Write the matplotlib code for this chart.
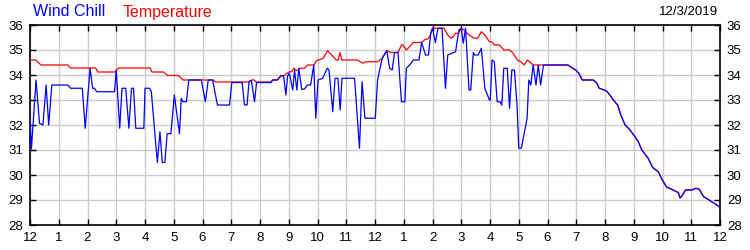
import matplotlib
matplotlib.use("Agg")
import matplotlib.pyplot as plt
import numpy as np

plt.rcParams['font.family'] = ['Liberation Sans', 'DejaVu Sans']

# hours since midnight (0..24) and values
chill_hours = [0.0, 0.05, 0.21, 0.33, 0.45, 0.56, 0.65, 0.76, 1.32, 1.41, 1.82, 1.92, 2.09, 2.18, 2.24, 2.32,
               2.94, 3.0, 3.12, 3.2, 3.33, 3.44, 3.53, 3.6, 3.68, 3.96, 4.0, 4.16, 4.22, 4.43, 4.52, 4.6,
               4.69, 4.77, 4.9, 5.02, 5.2, 5.26, 5.32, 5.44, 5.52, 5.96, 6.1, 6.2, 6.35, 6.52, 6.94, 7.02,
               7.38, 7.46, 7.55, 7.62, 7.7, 7.81, 7.88, 8.38, 8.44, 8.6, 8.73, 8.82, 8.9, 8.96, 9.02, 9.14,
               9.2, 9.28, 9.35, 9.45, 9.53, 9.61, 9.65, 9.76, 9.87, 9.94, 10.02, 10.18, 10.34, 10.4, 10.53,
               10.61, 10.71, 10.79, 10.85, 11.29, 11.46, 11.55, 11.65, 12.01, 12.09, 12.25, 12.41, 12.51,
               12.6, 12.68, 12.8, 12.92, 13.04, 13.09, 13.21, 13.33, 13.53, 13.62, 13.76, 13.86, 13.94,
               14.0, 14.1, 14.19, 14.33, 14.45, 14.53, 14.68, 14.8, 14.92, 15.0, 15.07, 15.15, 15.27,
               15.33, 15.42, 15.47, 15.59, 15.7, 15.82, 15.98, 16.01, 16.07, 16.15, 16.25, 16.35, 16.41,
               16.48, 16.6, 16.68, 16.76, 16.85, 16.94, 17.0, 17.09, 17.19, 17.29, 17.35, 17.42, 17.5,
               17.6, 17.68, 17.76, 17.86, 18.71, 18.8, 18.98, 19.09, 19.21, 19.59, 19.7, 19.8, 19.98,
               20.06, 20.17, 20.29, 20.44, 20.55, 20.7, 20.85, 21.03, 21.16, 21.28, 21.5, 21.66, 21.86,
               21.98, 22.14, 22.32, 22.49, 22.55, 22.61, 22.7, 22.8, 23.02, 23.16, 23.28, 23.43, 23.58,
               23.78, 23.94, 24.0]
chill_vals = [32.3, 31.05, 33.8, 32.07, 32.0, 33.6, 32.0, 33.6, 33.6, 33.47, 33.47, 31.87, 34.27, 33.47, 33.47, 33.33,
              33.33, 34.2, 31.87, 33.47, 33.47, 31.87, 33.47, 33.47, 31.87, 31.87, 33.47, 33.47, 33.33, 30.5, 31.73, 30.5,
              30.5, 31.65, 31.65, 33.2, 31.65, 33.07, 32.93, 32.93, 33.8, 33.8, 32.93, 33.8, 33.8, 32.8, 32.8, 33.7,
              33.7, 32.8, 32.8, 33.75, 33.78, 32.93, 33.7, 33.7, 33.8, 33.8, 33.97, 33.97, 33.2, 33.96, 34.07, 33.4,
              34.2, 33.4, 34.27, 33.43, 33.43, 33.53, 33.6, 33.6, 34.4, 32.27, 33.8, 33.87, 34.27, 34.2, 32.53,
              33.87, 33.87, 32.6, 33.87, 33.87, 31.07, 33.73, 32.27, 32.27, 33.8, 34.67, 34.97, 34.27,
              34.2, 34.9, 34.9, 32.93, 32.93, 34.27, 34.4, 34.6, 34.6, 35.3, 34.8, 34.8, 35.67,
              35.87, 35.3, 35.87, 35.87, 33.47, 34.8, 34.87, 34.93, 35.8, 35.87, 35.27, 35.87, 33.4,
              33.4, 34.9, 34.8, 34.8, 35.07, 33.47, 33.0, 33.0, 34.6, 34.53, 32.93, 32.93, 32.8,
              34.27, 34.27, 32.67, 34.2, 34.2, 32.8, 31.07, 31.07, 31.67, 32.27, 33.8, 33.6, 34.4,
              33.6, 34.4, 33.6, 34.4, 34.4, 34.33, 34.2, 34.07, 33.8, 33.8, 33.7, 33.47, 33.4,
              33.35, 33.2, 33.0, 32.8, 32.4, 32.0, 31.83, 31.55, 31.33, 31.0, 30.67, 30.3, 30.12,
              29.83, 29.52, 29.43, 29.33, 29.3, 29.08, 29.2, 29.4, 29.4, 29.47, 29.43, 29.13, 29.03,
              28.88, 28.76, 28.7]

temp_hours = [0.0, 0.2, 0.38, 1.32, 1.4, 2.28, 2.36, 2.96, 3.07, 4.18, 4.24, 4.65, 4.78, 5.16, 5.32, 6.37,
              6.45, 7.62, 7.7, 7.8, 7.86, 8.38, 8.44, 8.6, 8.73, 8.82, 9.02, 9.1, 9.18, 9.27, 9.39, 9.55,
              9.65, 9.88, 9.96, 10.08, 10.2, 10.35, 10.52, 10.65, 10.72, 10.78, 10.85, 11.38, 11.58, 11.67,
              12.09, 12.25, 12.41, 12.56, 12.8, 12.92, 12.98, 13.09, 13.2, 13.33, 13.62, 13.75, 13.82, 13.9,
              14.0, 14.4, 14.53, 14.65, 14.72, 14.79, 14.9, 15.0, 15.1, 15.27, 15.45, 15.57, 15.7, 15.82,
              15.98, 16.06, 16.15, 16.33, 16.48, 16.68, 16.8, 16.95, 17.07, 17.19, 17.29, 17.38, 17.5,
              17.86, 18.71, 18.8, 18.98, 19.09, 19.21, 19.59, 19.7, 19.8, 19.98, 20.06, 20.17, 20.29,
              20.44, 20.55, 20.7, 20.85, 21.03, 21.16, 21.28, 21.5, 21.66, 21.86, 21.98, 22.14, 22.32,
              22.49, 22.55, 22.61, 22.7, 22.8, 23.02, 23.16, 23.28, 23.43, 23.58, 23.78, 23.94, 24.0]
temp_vals = [34.6, 34.6, 34.4, 34.4, 34.28, 34.28, 34.12, 34.12, 34.28, 34.28, 34.12, 34.12, 33.98, 33.98, 33.8, 33.8,
             33.72, 33.72, 33.8, 33.8, 33.72, 33.72, 33.8, 33.8, 33.97, 33.97, 34.13, 34.13, 34.27, 34.17, 34.27, 34.27,
             34.4, 34.4, 34.57, 34.62, 34.67, 34.97, 34.77, 34.6, 34.6, 34.9, 34.6, 34.6, 34.47, 34.53,
             34.53, 34.67, 34.97, 34.9, 34.9, 35.2, 35.2, 35.0, 35.13, 35.3, 35.3, 35.43, 35.43, 35.53,
             35.87, 35.87, 35.6, 35.47, 35.53, 35.67, 35.67, 35.87, 35.8, 35.6, 35.47, 35.47, 35.73, 35.6,
             35.33, 35.33, 35.2, 35.2, 35.0, 35.0, 34.88, 34.6, 34.53, 34.4, 34.6, 34.53, 34.4,
             34.4, 34.4, 34.33, 34.2, 34.07, 33.8, 33.8, 33.7, 33.47, 33.4, 33.35, 33.2, 33.0,
             32.8, 32.4, 32.0, 31.83, 31.55, 31.33, 31.0, 30.67, 30.3, 30.12, 29.83, 29.52, 29.43,
             29.33, 29.3, 29.08, 29.2, 29.4, 29.4, 29.47, 29.43, 29.13, 29.03, 28.88, 28.76, 28.7]

x_ticks = list(range(0, 25))
x_labels = ['12', '1', '2', '3', '4', '5', '6', '7', '8', '9', '10', '11',
            '12', '1', '2', '3', '4', '5', '6', '7', '8', '9', '10', '11', '12']
y_ticks = [28, 29, 30, 31, 32, 33, 34, 35, 36]
date_label = '12/3/2019'

fig = plt.figure(figsize=(7.5, 2.5), dpi=100)
ax = fig.add_axes([30/750, 25/250, 690/750, 200/250])

ax.plot(temp_hours, temp_vals, color='#ff0000', lw=0.9, zorder=3)
ax.plot(chill_hours, chill_vals, color='#0000ff', lw=0.9, zorder=4)

ax.set_xlim(0, 24)
ax.set_ylim(28, 36)
ax.set_xticks(x_ticks)
ax.set_xticklabels(x_labels)
ax.set_yticks(y_ticks)
ax.grid(True, color='#cccccc', lw=1.0, zorder=0)
ax.set_axisbelow(True)
ax.tick_params(axis='both', direction='in', length=4, width=1, labelsize=9.5, colors='black',
               top=True, right=True, labelright=True, labelleft=True, pad=5)
ax.tick_params(axis='x', pad=5)
for s in ax.spines.values():
    s.set_color('black')
    s.set_linewidth(1.2)

fig.text(33/750, 1 - 12/250, 'Wind Chill', color='#0000ff', fontsize=11.5, va='center', ha='left')
fig.text(123/750, 1 - 12/250, 'Temperature', color='#ff0000', fontsize=11.5, va='center', ha='left')
fig.text(718/750, 1 - 12/250, date_label, color='black', fontsize=9.5, va='center', ha='right')

fig.savefig('out.png', dpi=100)
